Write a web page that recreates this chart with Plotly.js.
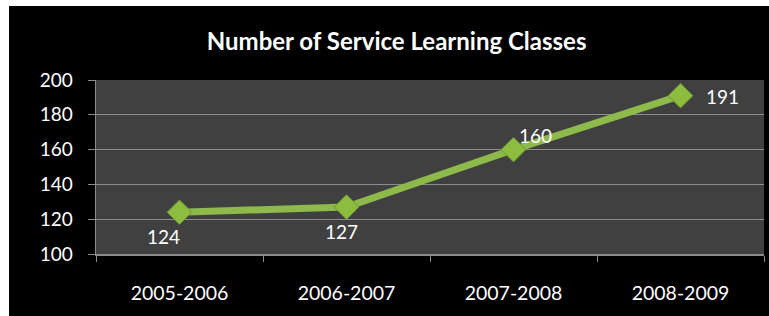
<!DOCTYPE html>
<html>
<head>
<meta charset="utf-8">
<script src="https://cdn.plot.ly/plotly-3.0.1.min.js"></script>
<style>
html,body{margin:0;padding:0;background:#ffffff;}
#chart{position:absolute;left:9px;top:6px;width:760px;height:310px;}
</style>
</head>
<body>
<div id="chart"></div>
<script>
const categories = ["2005-2006", "2006-2007", "2007-2008", "2008-2009"];
const classes = [124, 127, 160, 191];
const yTicks = [100, 120, 140, 160, 180, 200];
const labelShift = [[-16, -24], [-5, -24], [22, 14], [42, -1]];

const annotations = categories.map((c, i) => ({
  x: c, y: classes[i], xref: 'x', yref: 'y',
  text: String(classes[i]), showarrow: false,
  xshift: labelShift[i][0], yshift: labelShift[i][1],
  font: {family: 'Lato, "Open Sans", sans-serif', size: 19, color: '#ffffff'}
}));

const trace = {
  x: categories, y: classes, type: 'scatter', mode: 'lines+markers',
  line: {color: '#8dba4a', width: 7},
  marker: {symbol: 'diamond', size: 19, color: '#8cbd3f', line: {color: '#6b9330', width: 1}},
  hoverinfo: 'skip'
};

const layout = {
  width: 760, height: 310,
  paper_bgcolor: '#000000', plot_bgcolor: '#404040',
  margin: {l: 87, r: 5, t: 74, b: 62},
  title: {text: 'Number of Service Learning Classes', x: 0.51, xanchor: 'center', y: 0.885, yanchor: 'middle',
    font: {family: 'Lato, "Open Sans", sans-serif', size: 24, color: '#ffffff', weight: 'bold'}},
  showlegend: false,
  xaxis: {
    type: 'category', tickson: 'boundaries', ticks: 'outside', ticklen: 6, tickcolor: '#8c8c8c',
    showgrid: false, showline: true, linecolor: '#8c8c8c', linewidth: 1.5,
    tickfont: {family: 'Lato, "Open Sans", sans-serif', size: 19.5, color: '#ffffff'},
    ticklabelstandoff: 21, range: [-0.5, 3.5]
  },
  yaxis: {
    range: [100, 200], tickvals: yTicks, ticktext: yTicks.map(String),
    ticks: 'outside', ticklen: 7, tickcolor: '#8c8c8c',
    showgrid: true, gridcolor: '#8c8c8c', gridwidth: 1.2,
    showline: true, linecolor: '#8c8c8c', linewidth: 1.5, zeroline: false,
    tickfont: {family: 'Lato, "Open Sans", sans-serif', size: 19, color: '#ffffff'},
    ticklabelstandoff: 11
  },
  annotations: annotations
};

Plotly.newPlot('chart', [trace], layout, {displayModeBar: false, staticPlot: true});
</script>
</body>
</html>
